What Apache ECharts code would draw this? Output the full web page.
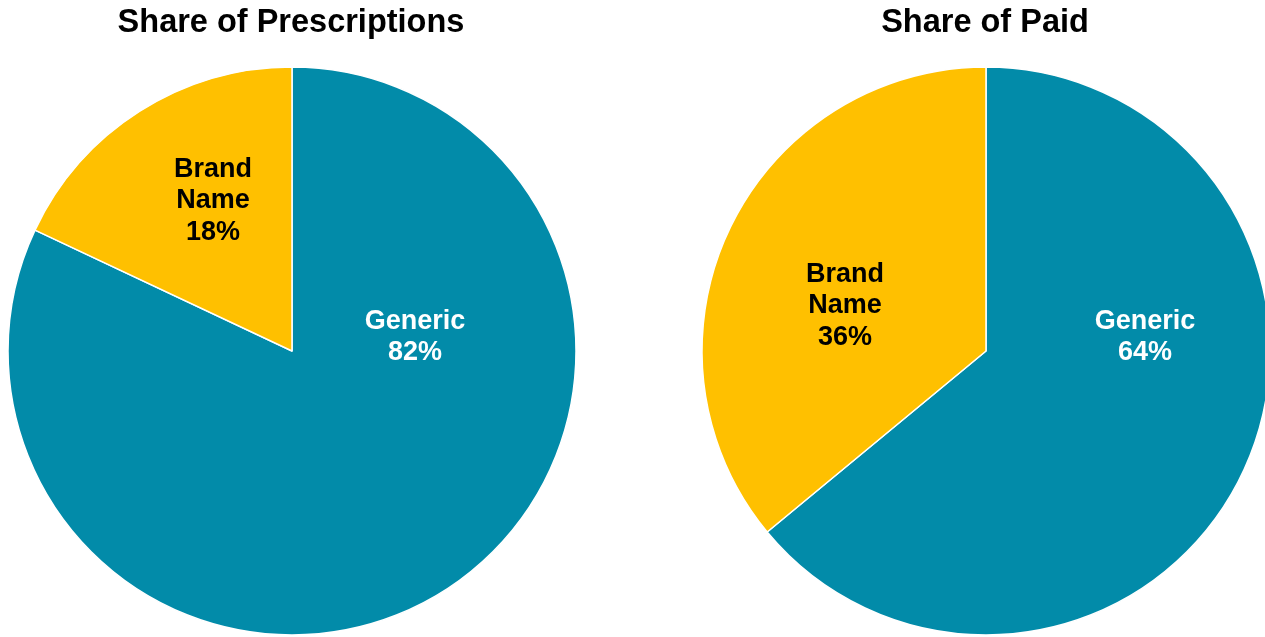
<!DOCTYPE html>
<html>
<head>
<meta charset="utf-8">
<style>
  html, body { margin: 0; padding: 0; background: #fff; }
  #chart { width: 1265px; height: 637px; }
</style>
<script src="https://cdn.jsdelivr.net/npm/echarts@6/dist/echarts.min.js"></script>
</head>
<body>
<div id="chart"></div>
<script>
  // data
  var categories = ["Generic", "Brand Name"];
  var prescriptions = [82, 18];
  var paid = [64, 36];
  var titles = ["Share of Prescriptions", "Share of Paid"];

  var colors = ["#028BA9", "#FFC000"];
  var labelColors = ["#ffffff", "#000000"];
  var centers = [[292, 351], [986, 351]];
  var titleX = [286, 980];
  var radius = 284;
  // label block offsets from pie centre (px)
  var labelOffsets = [
    [[123, -14], [-79, -150]],
    [[159, -14], [-141, -45]]
  ];

  var chart = echarts.init(document.getElementById("chart"));

  function makeSeries(values, idx) {
    return {
      type: "pie",
      center: centers[idx],
      radius: radius,
      startAngle: 90,
      clockwise: true,
      silent: true,
      animation: false,
      itemStyle: { borderColor: "#ffffff", borderWidth: 1.5 },
      label: {
        show: true,
        position: "inside",
        fontFamily: "Liberation Sans",
        fontWeight: "bold",
        fontSize: 27,
        lineHeight: 31.5,
        align: "center",
        verticalAlign: "middle",
        formatter: function (p) {
          return p.name.replace(" ", "\n") + "\n" + p.value + "%";
        }
      },
      labelLine: { show: false },
      labelLayout: function (params) {
        var off = labelOffsets[idx][params.dataIndex];
        return {
          x: centers[idx][0] + off[0],
          y: centers[idx][1] + off[1],
          align: "center",
          verticalAlign: "middle"
        };
      },
      data: values.map(function (v, i) {
        return {
          name: categories[i],
          value: v,
          itemStyle: { color: colors[i] },
          label: { color: labelColors[i] }
        };
      })
    };
  }

  var option = {
    title: titles.map(function (t, i) {
      return {
        text: t,
        left: titleX[i],
        top: 2,
        textAlign: "center",
        textStyle: {
          fontFamily: "Liberation Sans",
          fontWeight: "bold",
          fontSize: 32.5,
          color: "#000000"
        }
      };
    }),
    series: [makeSeries(prescriptions, 0), makeSeries(paid, 1)]
  };

  chart.setOption(option);
</script>
</body>
</html>
